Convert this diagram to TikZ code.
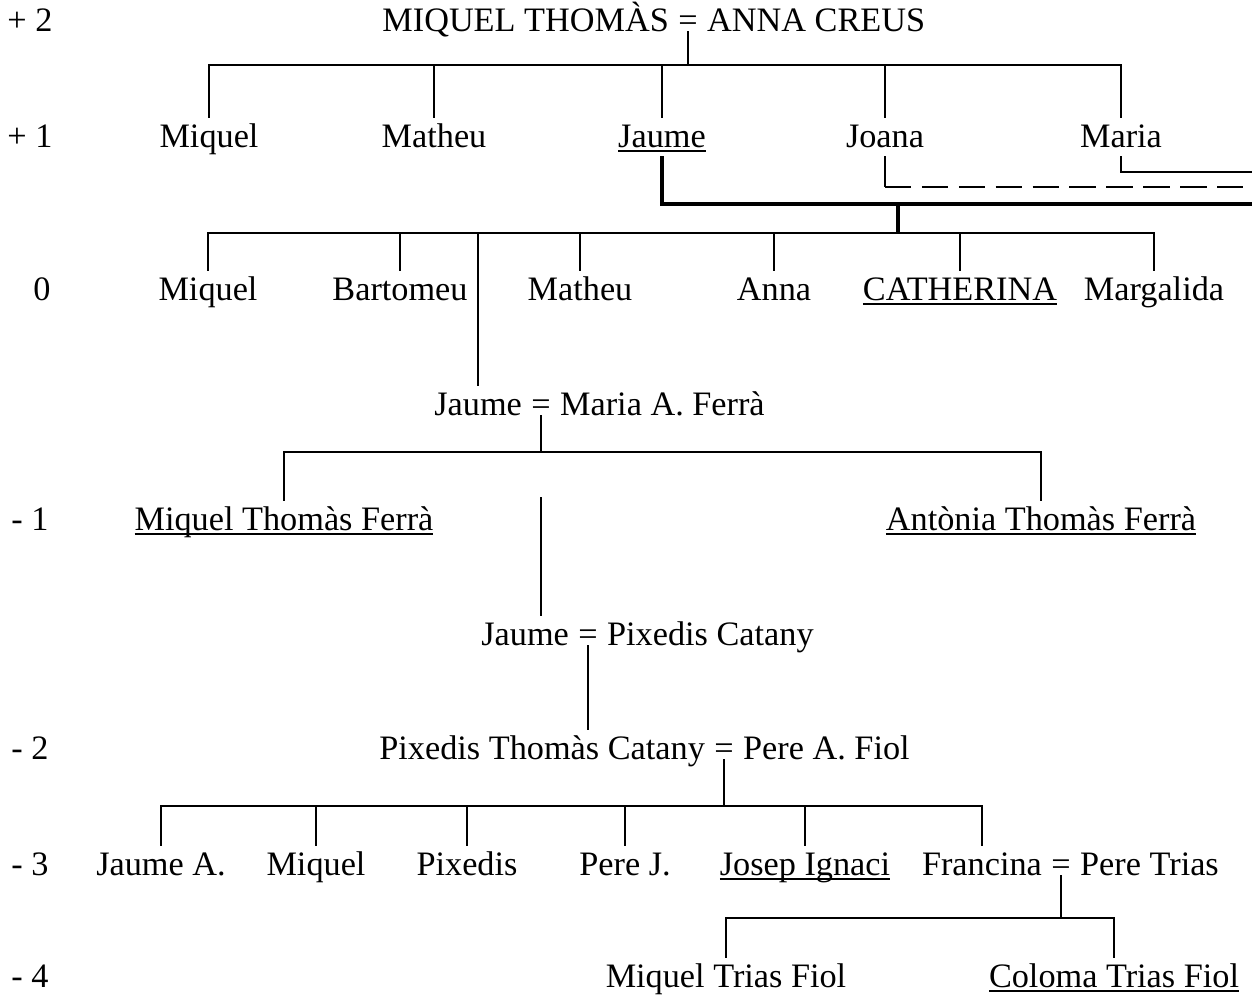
\documentclass[tikz,border=0pt]{standalone}
\usepackage{fontspec}
\setmainfont{Liberation Serif}
\usetikzlibrary{positioning}
\newcommand{\undl}[1]{\setbox0\hbox{#1}\rlap{\rule[-0.14em]{\wd0}{0.055em}}\box0}

\begin{document}
\begin{tikzpicture}[x=0.02cm, y=-0.02cm,
    person/.style={font=\fontsize{19.5}{23}\selectfont, inner xsep=0pt, inner ysep=4pt, text height=12.5pt, text depth=1pt, anchor=base},
    link/.style={line width=1.1pt},
    wedline/.style={line width=2.4pt},
    dashlink/.style={line width=1.1pt, dash pattern=on 15pt off 6pt}
]
    \useasboundingbox (0,0) rectangle (1260,998);

    % Generation numbers
    \node[person] (lv2) at (30,31) {+ 2};
    \node[person] (lv1) at (30,147) {+ 1};
    \node[person] (lv0) at (42,300) {0};
    \node[person] (lvm1) at (30,530) {- 1};
    \node[person] (lvm2) at (30,759) {- 2};
    \node[person] (lvm3) at (30,875) {- 3};
    \node[person] (lvm4) at (30,987) {- 4};

    % Generation +2
    \node[person] (eq2) at (688,31) {=};
    \node[person, left=5pt of eq2] (mt2) {MIQUEL THOMÀS};
    \node[person, right=5pt of eq2] (ac2) {ANNA CREUS};

    % Generation +1
    \node[person] (mq1) at (209,147) {Miquel};
    \node[person] (mt1) at (434,147) {Matheu};
    \node[person] (ja1) at (662,147) {\undl{Jaume}};
    \node[person] (jo1) at (885,147) {Joana};
    \node[person] (ma1) at (1121,147) {Maria};

    % Generation 0
    \node[person] (mq0) at (208,300) {Miquel};
    \node[person] (ba0) at (400,300) {Bartomeu};
    \node[person] (mt0) at (580,300) {Matheu};
    \node[person] (an0) at (774,300) {Anna};
    \node[person] (ca0) at (960,300) {\undl{CATHERINA}};
    \node[person] (mg0) at (1154,300) {Margalida};

    \node[person] (eqjm) at (541,415) {=};
    \node[person, left=5pt of eqjm] (jm) {Jaume};
    \node[person, right=5pt of eqjm] (mf) {Maria A. Ferrà};

    % Generation -1
    \node[person] (mtf) at (284,530) {\undl{Miquel Thomàs Ferrà}};
    \node[person] (atf) at (1041,530) {\undl{Antònia Thomàs Ferrà}};

    \node[person] (eqjp) at (588,645) {=};
    \node[person, left=5pt of eqjp] (jp) {Jaume};
    \node[person, right=5pt of eqjp] (pc) {Pixedis Catany};

    % Generation -2
    \node[person] (eqpf) at (724,759) {=};
    \node[person, left=5pt of eqpf] (pt) {Pixedis Thomàs Catany};
    \node[person, right=5pt of eqpf] (pf) {Pere A. Fiol};

    % Generation -3
    \node[person] (ja3) at (161,875) {Jaume A.};
    \node[person] (mq3) at (316,875) {Miquel};
    \node[person] (px3) at (467,875) {Pixedis};
    \node[person] (pj3) at (625,875) {Pere J.};
    \node[person] (ji3) at (805,875) {\undl{Josep Ignaci}};
    \node[person] (eqft) at (1061,875) {=};
    \node[person, left=5pt of eqft] (fr3) {Francina};
    \node[person, right=5pt of eqft] (ptr) {Pere Trias};

    % Generation -4
    \node[person] (mtf4) at (726,987) {Miquel Trias Fiol};
    \node[person] (ctf4) at (1114,987) {\undl{Coloma Trias Fiol}};

    % Junctions
    \coordinate (f2) at (688,65);
    \coordinate (m1) at (898,204);
    \coordinate (e1) at (1252,204);
    \coordinate (e2) at (1252,187);
    \coordinate (e3) at (1252,172);
    \coordinate (f0) at (898,233);
    \coordinate (f1) at (541,452);
    \coordinate (s1) at (541,497);
    \coordinate (f3) at (724,806);
    \coordinate (f4) at (1061,918);

    % Lines
    \draw[link] (eq2.base) -- (f2);
    \draw[link] (mq1.north) |- (f2) -| (ma1.north);
    \foreach \c in {mt1,ja1,jo1} \draw[link] (\c.north) -- (\c.north |- f2);

    \draw[wedline] (ja1.south) |- (e1);
    \draw[link] (jo1.south) -- (jo1.south |- e2);
    \draw[dashlink] (jo1.south |- e2) -- (e2);
    \draw[link] (ma1.south) |- (e3);

    \draw[wedline] (m1) -- (f0);
    \draw[link] (mq0.north) |- (f0) -| (mg0.north);
    \foreach \c in {ba0,mt0,an0,ca0,jm} \draw[link] (\c.north) -- (\c.north |- f0);

    \draw[link] (eqjm.base) -- (f1);
    \draw[link] (mtf.north) |- (f1) -| (atf.north);
    \draw[link] (s1) -- (s1 |- jp.north);

    \draw[link] (eqjp.base) -- (eqjp.base |- pt.north);

    \draw[link] (eqpf.base) -- (f3);
    \draw[link] (ja3.north) |- (f3) -| (fr3.north);
    \foreach \c in {mq3,px3,pj3,ji3} \draw[link] (\c.north) -- (\c.north |- f3);

    \draw[link] (eqft.base) -- (f4);
    \draw[link] (mtf4.north) |- (f4) -| (ctf4.north);
\end{tikzpicture}
\end{document}
